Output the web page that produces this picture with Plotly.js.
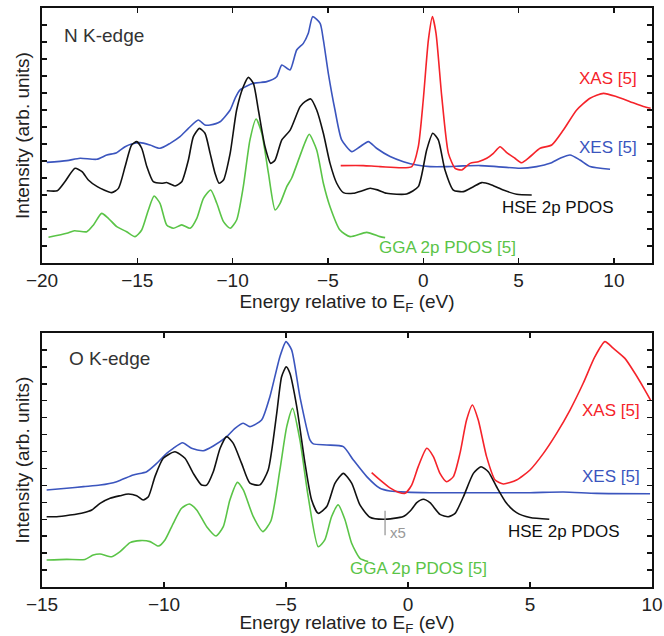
<!DOCTYPE html>
<html>
<head>
<meta charset="utf-8">
<script src="https://cdn.plot.ly/plotly-3.0.1.min.js"></script>
<style>html,body{margin:0;padding:0;background:#fff}#chart{width:664px;height:636px}</style>
</head>
<body>
<div id="chart"></div>
<script>
// ---------- N K-edge (top panel) ----------
const nkHseE = [-19.75,-19.2,-18.8,-18.27,-17.9,-17.57,-17.1,-16.34,-15.99,-15.64,-15.3,-15.03,-14.77,-14.5,-14.16,-13.72,-13.46,-13.02,-12.67,-12.32,-12.06,-11.74,-11.45,-11.18,-10.92,-10.71,-10.48,-10.13,-9.79,-9.44,-9.17,-8.91,-8.65,-8.3,-8.0,-7.77,-7.42,-6.99,-6.46,-6.2,-5.9,-5.59,-5.24,-4.89,-4.54,-4.19,-3.67,-3.2,-2.79,-2.4,-1.92,-0.87,-0.26,0.18,0.5,0.79,1.14,1.58,2.1,2.63,3.07,3.59,4.2,4.9,5.69];
const nkHseI = [4.25,4.25,4.78,5.57,5.37,4.88,4.49,4.14,4.39,5.67,6.94,7.14,6.75,5.67,4.78,4.69,4.73,4.53,4.78,6.06,7.43,7.92,7.63,6.45,5.27,4.69,4.88,6.45,9.0,10.37,10.92,10.57,9.0,6.84,5.86,6.06,7.24,7.8,9.2,9.49,9.65,9.0,7.63,5.86,4.69,4.14,4.1,4.25,4.4,4.3,4.1,4.06,4.49,6.65,7.63,7.24,5.47,4.29,4.2,4.49,4.73,4.59,4.29,4.04,4.0];

const nkXesE = [-19.75,-18.7,-18.0,-17.13,-16.6,-16.08,-15.64,-15.3,-14.86,-14.33,-13.81,-13.28,-12.76,-12.32,-11.8,-11.45,-11.18,-10.66,-10.13,-9.87,-9.61,-8.91,-8.21,-7.69,-7.42,-6.99,-6.64,-6.29,-6.03,-5.8,-5.41,-5.24,-4.98,-4.63,-4.28,-3.75,-3.32,-2.88,-2.45,-1.74,-1.04,-0.34,0.36,1.23,2.1,2.98,3.85,5.08,5.95,6.65,7.18,7.7,8.22,8.75,9.8];
const nkXesI = [5.92,6.02,6.16,6.1,6.35,6.49,6.84,7.0,7.08,6.94,6.75,7.04,7.43,7.92,8.41,8.12,8.12,8.31,9.0,9.69,10.18,10.57,10.67,10.96,11.65,11.35,12.53,12.92,13.51,14.49,14.1,13.12,11.16,9.0,7.24,6.55,6.84,7.14,6.75,6.26,5.96,5.76,5.67,5.67,5.71,5.73,5.67,5.57,5.67,5.86,6.16,6.35,6.06,5.67,5.51];

const nkXasE = [-4.33,-3.14,-2.27,-0.6,-0.26,0.0,0.27,0.48,0.67,0.97,1.32,1.67,2.02,2.45,2.89,3.33,3.68,4.03,4.38,4.81,5.16,5.6,6.13,6.74,7.35,8.05,8.75,9.45,10.15,10.85,11.55,11.93];
const nkXasI = [5.73,5.73,5.67,5.67,6.84,9.59,13.12,14.49,13.51,9.8,6.45,5.57,5.47,5.86,5.96,6.16,6.45,6.84,6.49,6.16,5.9,6.25,6.75,6.94,7.82,9.0,9.69,9.98,9.78,9.49,9.2,9.1];

const nkGgaE = [-19.66,-18.7,-18.3,-17.65,-17.3,-16.87,-16.52,-16.08,-15.56,-15.12,-14.77,-14.42,-14.12,-13.81,-13.46,-13.11,-12.67,-12.23,-11.88,-11.53,-11.15,-10.83,-10.48,-10.13,-9.79,-9.44,-9.09,-8.77,-8.47,-8.12,-7.77,-7.51,-7.16,-6.9,-6.5,-6.2,-5.98,-5.59,-5.24,-4.89,-4.37,-3.84,-2.97,-2.27,-2.0];
const nkGgaI = [1.51,1.75,1.9,1.84,2.24,2.92,2.63,2.14,1.84,1.55,1.94,3.12,3.94,3.51,2.24,2.04,2.24,2.04,2.63,3.8,4.29,3.51,2.43,2.04,2.53,4.49,7.24,8.47,7.63,5.27,3.12,3.51,4.49,5.0,6.2,7.1,7.57,6.65,4.69,3.31,1.94,1.55,1.8,1.55,1.49];

// ---------- O K-edge (bottom panel) ----------
const okHseE = [-14.81,-14.4,-13.85,-13.3,-12.96,-12.62,-12.21,-11.8,-11.46,-11.12,-10.85,-10.64,-10.37,-10.03,-9.55,-9.14,-8.8,-8.46,-8.25,-7.98,-7.7,-7.43,-7.16,-6.82,-6.48,-6.07,-5.73,-5.38,-5.18,-4.99,-4.84,-4.56,-4.22,-3.95,-3.68,-3.33,-2.99,-2.65,-2.31,-1.97,-1.56,-1.01,-0.19,0.1,0.36,0.63,0.9,1.31,1.65,1.93,2.27,2.68,2.99,3.29,3.63,4.04,4.45,5.0,5.79];
const okHseI = [4.15,4.15,4.25,4.39,4.55,4.94,5.24,5.39,5.49,5.39,5.14,5.33,6.52,7.6,7.99,7.6,6.71,6.02,6.02,6.81,8.19,8.88,8.48,7.3,6.13,6.03,6.91,10.26,12.42,13.0,12.62,10.65,7.3,5.14,4.35,4.75,6.13,6.71,6.13,4.85,4.12,4.0,4.16,4.5,4.98,5.18,4.98,4.29,4.15,4.35,5.33,6.71,7.1,6.81,5.92,4.94,4.39,4.1,4.0];

const okXesE = [-14.81,-13.99,-13.3,-12.62,-11.94,-11.26,-10.71,-10.3,-9.89,-9.62,-9.24,-8.87,-8.39,-7.98,-7.43,-7.09,-6.75,-6.48,-6.0,-5.66,-5.25,-5.0,-4.77,-4.43,-4.02,-3.88,-3.33,-2.65,-2.24,-1.69,-1.15,-0.74,-0.05,0.9,2.27,3.63,5.0,6.37,7.73,9.92];
const okXesI = [5.73,5.83,5.93,6.02,6.22,6.61,6.81,7.3,7.89,8.19,8.52,8.19,8.05,8.33,8.88,9.37,9.67,9.47,9.86,11.24,13.6,14.49,14.0,11.24,8.69,8.45,8.39,8.29,7.5,6.52,5.83,5.67,5.6,5.57,5.57,5.57,5.57,5.61,5.53,5.51];

const okXasE = [-1.49,-1.15,-0.74,-0.4,-0.12,0.15,0.42,0.77,1.04,1.31,1.58,1.86,2.13,2.4,2.64,2.88,3.22,3.57,3.91,4.45,5.0,5.55,6.09,6.64,7.18,7.66,8.07,8.41,8.89,9.3,9.71,9.94];
const okXasI = [6.75,6.32,5.85,5.6,5.53,6.02,7.11,8.19,7.7,6.71,6.22,6.52,7.89,9.86,10.75,9.86,7.7,6.32,6.08,6.32,6.91,7.89,9.07,10.45,12.03,13.6,14.49,14.1,13.5,12.62,11.63,11.04];

const okGgaE = [-14.81,-13.99,-13.24,-12.9,-12.62,-12.14,-11.8,-11.39,-10.98,-10.57,-10.23,-9.96,-9.62,-9.28,-8.96,-8.66,-8.25,-7.87,-7.57,-7.3,-6.99,-6.75,-6.34,-5.95,-5.62,-5.25,-4.97,-4.73,-4.43,-4.09,-3.68,-3.41,-3.13,-2.86,-2.58,-2.31,-1.97,-1.63];
const okGgaI = [1.59,1.63,1.63,1.89,1.95,1.79,2.09,2.62,2.74,2.68,2.42,2.78,3.76,4.65,4.9,4.55,3.56,3.01,3.56,5.14,6.18,5.73,4.15,3.27,3.9,6.91,9.47,10.55,8.69,5.34,2.38,2.78,4.16,4.85,3.96,2.58,1.69,1.5];

const xTickVals = {top: [-20,-15,-10,-5,0,5,10], bottom: [-15,-10,-5,0,5,10]};

const BLUE = '#3b55be', RED = '#f5232a', GREEN = '#5ac447', BLACK = '#111111';

function tr(x, y, color, xa, ya) {
  return {x: x, y: y, xaxis: xa, yaxis: ya, type: 'scatter', mode: 'lines',
          line: {color: color, width: 1.6, shape: 'spline', smoothing: 0.6},
          hoverinfo: 'skip', showlegend: false};
}

const data = [
  tr(nkGgaE, nkGgaI, GREEN, 'x', 'y'),
  tr(nkXesE, nkXesI, BLUE, 'x', 'y'),
  tr(nkXasE, nkXasI, RED, 'x', 'y'),
  tr(nkHseE, nkHseI, BLACK, 'x', 'y'),
  tr(okGgaE, okGgaI, GREEN, 'x2', 'y2'),
  tr(okXesE, okXesI, BLUE, 'x2', 'y2'),
  tr(okXasE, okXasI, RED, 'x2', 'y2'),
  tr(okHseE, okHseI, BLACK, 'x2', 'y2')
];

const FONT = 'Liberation Sans, Arial, Helvetica, sans-serif';
const xTitle = 'Energy relative to E<sub>F</sub> (eV)';
const yTitle = 'Intensity (arb. units)';

function xax(range, vals, anchor) {
  return {range: range, tickvals: vals, ticks: 'inside', ticklen: 5, tickwidth: 1.5, tickcolor: '#111',
          showline: true, linecolor: '#111', linewidth: 1.6, mirror: 'ticks', showgrid: false, zeroline: false,
          tickfont: {size: 19, color: '#222', family: FONT}, anchor: anchor,
          title: {text: xTitle, font: {size: 19, color: '#222', family: FONT}, standoff: 4}};
}
function yax(domain, anchor) {
  return {range: [0, 15], domain: domain, dtick: 1, tick0: 0, ticks: 'inside', ticklen: 5, tickwidth: 1.5, tickcolor: '#111',
          showticklabels: false, showline: true, linecolor: '#111', linewidth: 1.6, mirror: 'ticks',
          showgrid: false, zeroline: false, anchor: anchor,
          title: {text: yTitle, font: {size: 19, color: '#222', family: FONT}, standoff: 6}};
}

function ann(x, y, text, color, xref, yref, size) {
  return {x: x, y: y, xref: xref, yref: yref, text: text, showarrow: false, xanchor: 'left', yanchor: 'middle',
          font: {size: size || 17, color: color, family: FONT}};
}

const layout = {
  width: 664, height: 636,
  margin: {l: 42, r: 12, t: 8, b: 49},
  paper_bgcolor: '#fff', plot_bgcolor: '#fff',
  xaxis: xax([-20, 12], xTickVals.top, 'y'),
  yaxis: yax([0.5596, 1], 'x'),
  xaxis2: xax([-15, 10], xTickVals.bottom, 'y2'),
  yaxis2: yax([0, 0.4387], 'x2'),
  annotations: [
    ann(-18.95, 13.41, 'N K-edge', '#333', 'x', 'y', 19),
    ann(8.07, 10.88, 'XAS [5]', RED, 'x', 'y'),
    ann(8.07, 6.82, 'XES [5]', BLUE, 'x', 'y'),
    ann(4.03, 3.24, 'HSE 2p PDOS', BLACK, 'x', 'y'),
    ann(-2.42, 0.94, 'GGA 2p PDOS [5]', GREEN, 'x', 'y'),
    ann(-13.98, 13.47, 'O K-edge', '#333', 'x2', 'y2', 19),
    ann(7.05, 10.4, 'XAS [5]', RED, 'x2', 'y2'),
    ann(7.05, 6.5, 'XES [5]', BLUE, 'x2', 'y2'),
    ann(4.02, 3.25, 'HSE 2p PDOS', BLACK, 'x2', 'y2'),
    ann(-2.46, 1.12, 'GGA 2p PDOS [5]', GREEN, 'x2', 'y2'),
    ann(-0.82, 3.2, 'x5', '#999', 'x2', 'y2', 15)
  ],
  shapes: [
    {type: 'line', xref: 'x2', yref: 'y2', x0: -0.94, x1: -0.94, y0: 3.05, y1: 4.5, line: {color: '#999', width: 1.3}}
  ]
};

Plotly.newPlot('chart', data, layout, {staticPlot: true, displayModeBar: false});
</script>
</body>
</html>
